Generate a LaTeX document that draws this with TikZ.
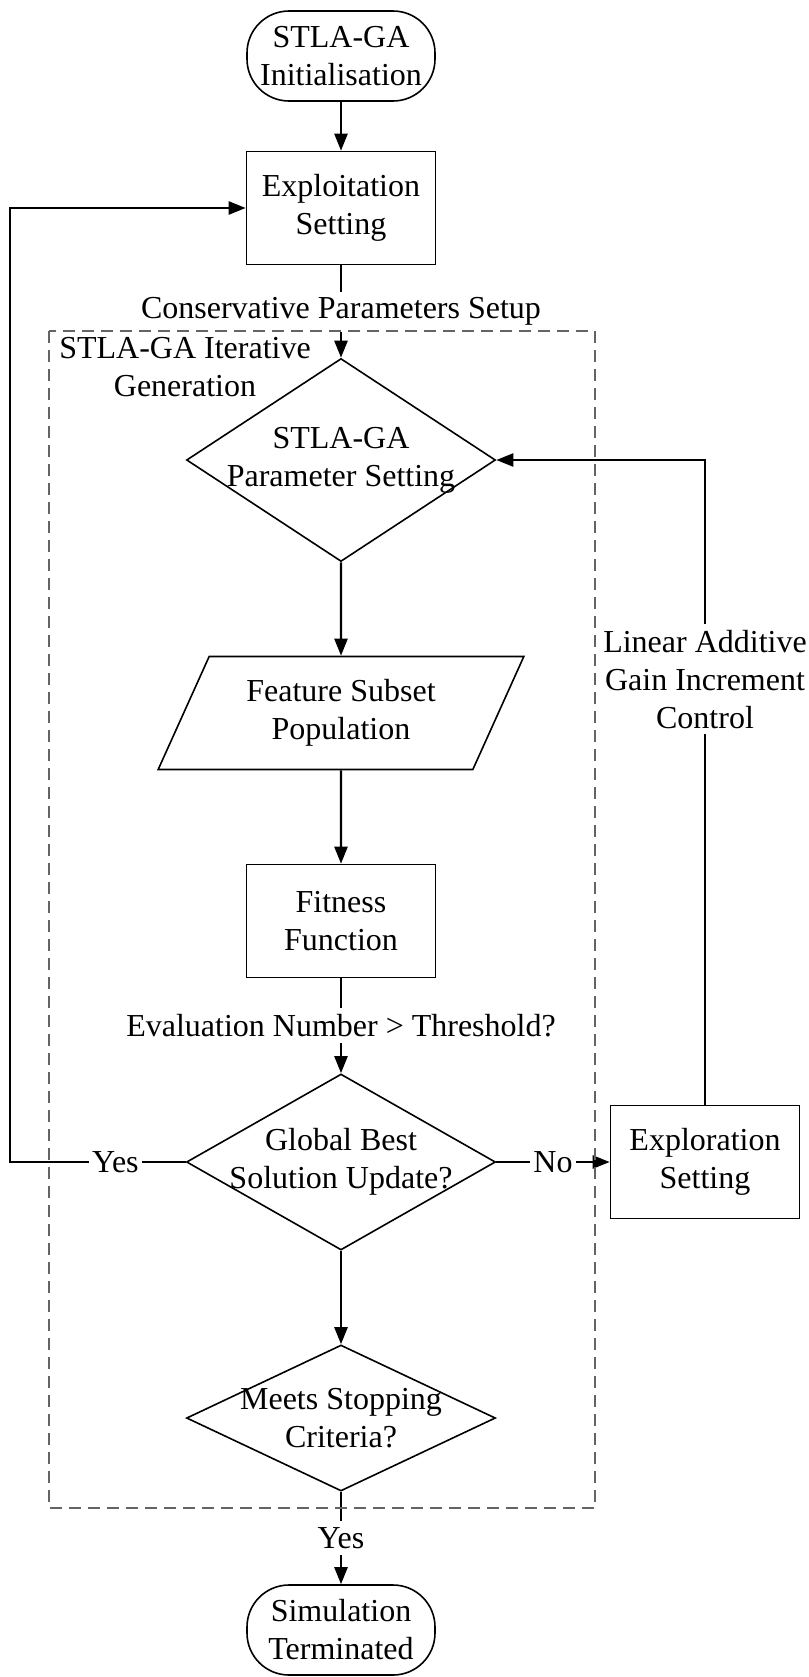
\documentclass[tikz,border=0pt]{standalone}
\usepackage{fontspec}
\setmainfont{Liberation Serif}
\usetikzlibrary{shapes.geometric,arrows.meta}

\definecolor{framegray}{RGB}{100,100,100}

\tikzset{
  terminal/.style={draw, line width=0.8pt, rounded corners=21pt, minimum width=94pt, minimum height=45pt, inner sep=0pt, align=center},
  process/.style={draw, line width=0.8pt, minimum width=94.5pt, minimum height=56.5pt, align=center},
  decision/.style={draw, diamond, line width=0.8pt, minimum width=154.5pt, inner sep=0pt},
  dataio/.style={draw, trapezium, line width=0.8pt, trapezium left angle=64, trapezium right angle=116, trapezium stretches=true, minimum width=183pt, minimum height=56.5pt, align=center},
  lbl/.style={fill=white, inner xsep=1.5pt, inner ysep=3pt},
  arr/.style={-{Triangle[length=8.5pt,width=6.5pt]}, line width=1.2pt},
  frame/.style={draw=framegray, line width=1pt, dash pattern=on 6pt off 3.5pt}
}

\begin{document}
\begin{tikzpicture}[x=0.5pt,y=-0.5pt,font=\fontsize{16}{19}\selectfont]
  \useasboundingbox (0,0) rectangle (809,1677);

  % main column
  \node[terminal] (init) at (341,56) {STLA-GA\\Initialisation};
  \node[process] (exploit) at (341,208) {Exploitation\\Setting};
  \node[decision, minimum height=101.5pt] (params) at (341,460) {};
  \node[align=center] (paramstxt) at (params) {STLA-GA\\Parameter Setting};
  \node[dataio] (subset) at (341,713) {Feature Subset\\Population};
  \node[process] (fitness) at (341,921) {Fitness\\Function};
  \node[decision, minimum height=88pt] (gbest) at (341,1162) {};
  \node[align=center] (gbesttxt) at (gbest) {Global Best\\Solution Update?};
  \node[decision, minimum height=73pt] (stop) at (341,1418) {};
  \node[align=center] (stoptxt) at (stop) {Meets Stopping\\Criteria?};
  \node[terminal] (finish) at (341,1630) {Simulation\\Terminated};

  % side
  \node[process] (explore) at (705,1162) {Exploration\\Setting};
  \node[align=center] (itertitle) at (185,367) {STLA-GA Iterative\\Generation};
  \coordinate (yesturn) at (10,1162);

  % connectors
  \draw[arr] (init) -- (exploit);
  \draw[arr] (exploit) -- node[lbl] {Conservative Parameters Setup} (params);
  \draw[arr] (params) -- (subset);
  \draw[arr] (subset) -- (fitness);
  \draw[arr] (fitness) -- node[lbl] {Evaluation Number > Threshold?} (gbest);
  \draw[arr] (gbest) -- (stop);
  \draw[arr] (stop) -- node[lbl] {Yes} (finish);
  \draw[arr] (gbest) -- node[lbl, pos=0.4] {Yes} (yesturn) |- (exploit);
  \draw[arr] (gbest) -- node[lbl] {No} (explore);
  \draw[arr] (explore) -- node[lbl, pos=0.66, align=center] {Linear Additive\\Gain Increment\\Control} (explore |- params) -- (params);

  % iterative generation frame
  \draw[frame] (49,331) rectangle (595,1508);
\end{tikzpicture}
\end{document}
